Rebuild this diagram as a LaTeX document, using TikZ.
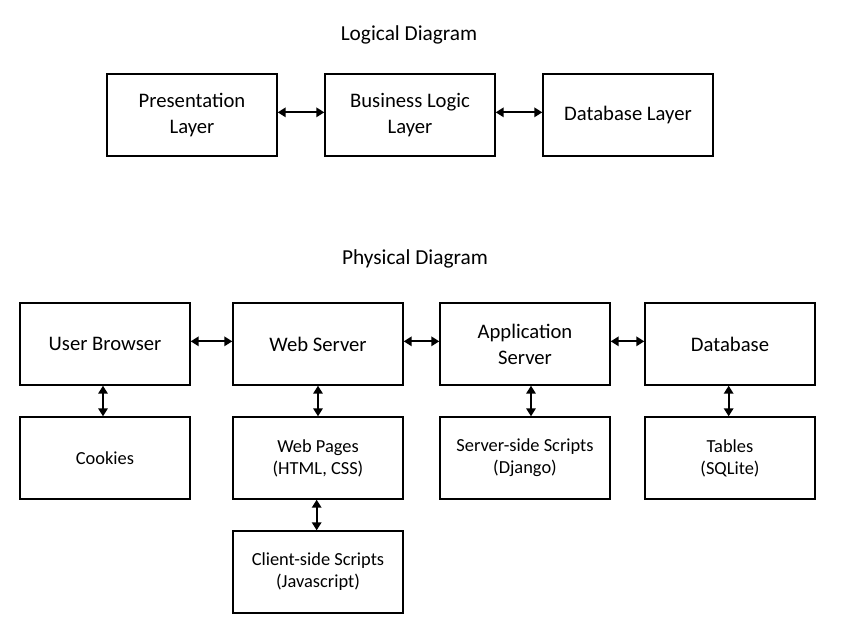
\documentclass[tikz,border=0pt]{standalone}
\usepackage{fontspec}
\setmainfont{Carlito}
\usetikzlibrary{arrows.meta}
\tikzstyle{layer}=[draw,line width=1.5pt,minimum width=127pt,minimum height=61pt,align=center,font=\fontsize{15.5}{19.5}\selectfont]
\tikzstyle{part}=[layer,font=\fontsize{13.8}{16.5}\selectfont]
\tikzstyle{link}=[{Triangle[length=6pt,width=7pt]}-{Triangle[length=6pt,width=7pt]},line width=1.5pt]
\tikzstyle{title}=[font=\fontsize{16}{19}\selectfont]

\begin{document}
\begin{tikzpicture}[x=0.75pt,y=-0.75pt]
\useasboundingbox (0,0) rectangle (843,633);
\node [title] (logical) at (409,35) {Logical Diagram};
\node [layer] (pres) at (192,115) {Presentation\\Layer};
\node [layer] (bus) at (410,115) {Business Logic\\Layer};
\node [layer] (dbl) at (628,115) {Database Layer};
\draw [link] ([yshift=2pt]pres.east) -- ([yshift=2pt]bus.west);
\draw [link] ([yshift=2pt]bus.east) -- ([yshift=2pt]dbl.west);

\node [title] (physical) at (415,259) {Physical Diagram};
\node [layer] (browser) at (105,344) {User Browser};
\node [layer] (web) at (318,344) {Web Server};
\node [layer] (app) at (525,344) {Application\\Server};
\node [layer] (db) at (730,344) {Database};
\node [part] (cookies) at (105,458) {Cookies};
\node [part] (pages) at (318,458) {Web Pages\\(HTML, CSS)};
\node [part] (server) at (525,458) {Server-side Scripts\\(Django)};
\node [part] (tables) at (730,458) {Tables\\(SQLite)};
\node [part] (client) at (318,572) {Client-side Scripts\\(Javascript)};
\draw [link] ([yshift=2pt]browser.east) -- ([yshift=2pt]web.west);
\draw [link] ([yshift=2pt]web.east) -- ([yshift=2pt]app.west);
\draw [link] ([yshift=2pt]app.east) -- ([yshift=2pt]db.west);
\draw [link] ([xshift=-1.5pt]browser.south) -- ([xshift=-1.5pt]cookies.north);
\draw [link] (web.south) -- (pages.north);
\draw [link] ([xshift=4.5pt]app.south) -- ([xshift=4.5pt]server.north);
\draw [link] ([xshift=-1pt]db.south) -- ([xshift=-1pt]tables.north);
\draw [link] ([xshift=-1pt]pages.south) -- ([xshift=-1pt]client.north);
\end{tikzpicture}
\end{document}
